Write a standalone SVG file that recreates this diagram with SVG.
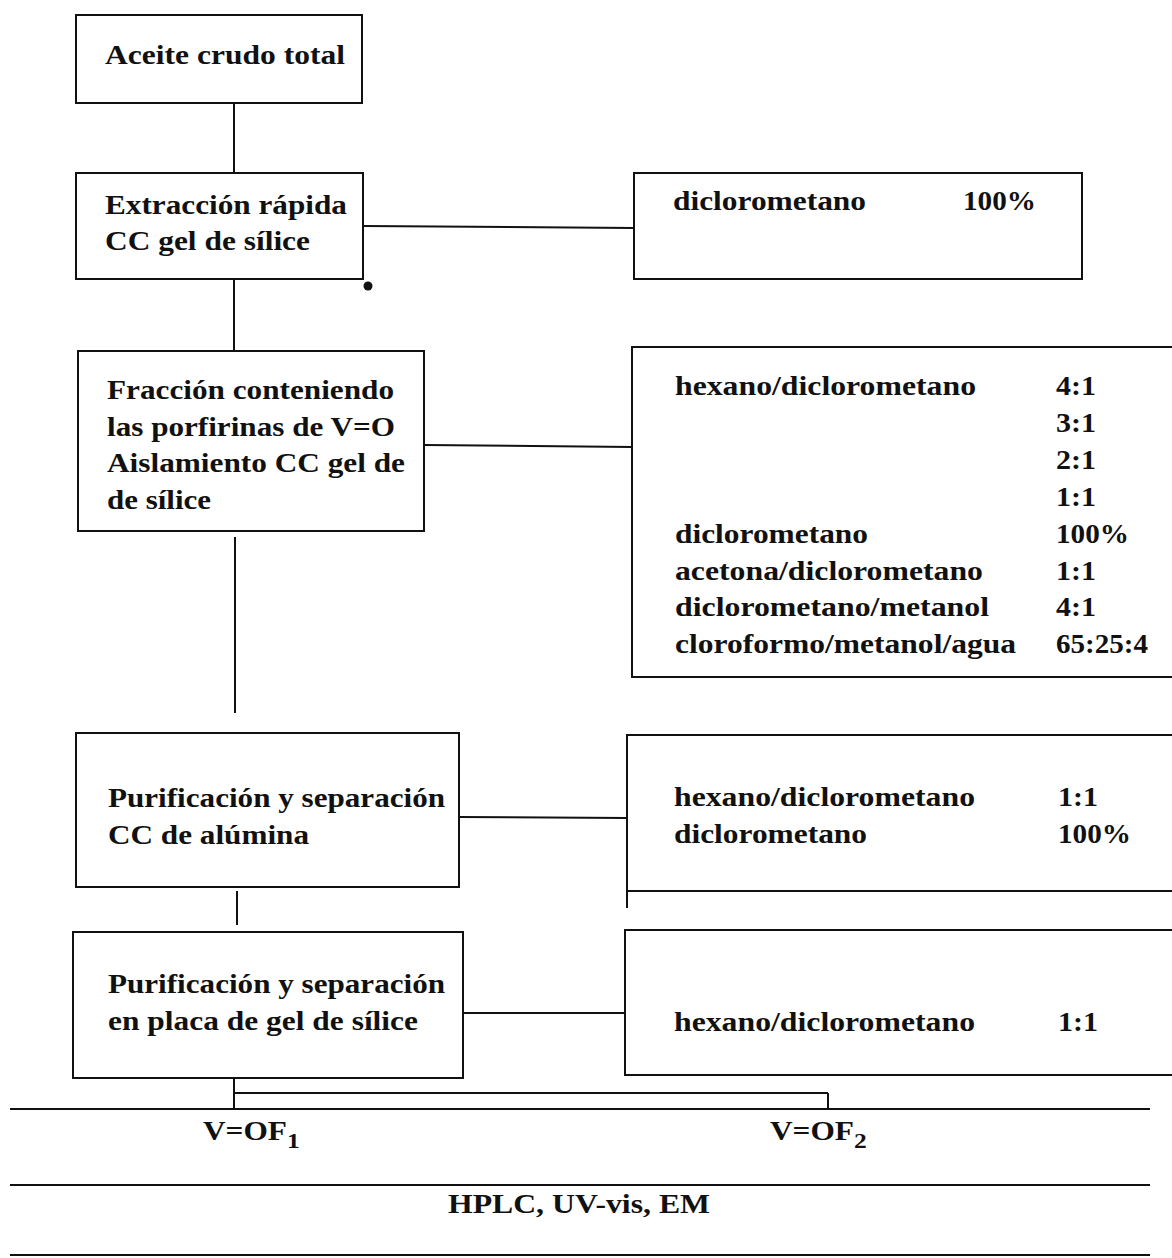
<svg xmlns="http://www.w3.org/2000/svg" width="1172" height="1258" viewBox="0 0 1172 1258">
<style>
.box{fill:none;stroke:#111;stroke-width:2}
.ln{stroke:#111;stroke-width:2;fill:none}
text{font-family:'Liberation Serif',Tinos,'Times New Roman',Times,serif;font-weight:700;font-size:27px;fill:#111}
</style>
<rect width="1172" height="1258" fill="#fff"/>
<g id="connectors">
<line class="ln" x1="234" y1="103" x2="234" y2="173"/>
<line class="ln" x1="234" y1="279" x2="234" y2="351"/>
<line class="ln" x1="363" y1="226" x2="634" y2="228"/>
<line class="ln" x1="424" y1="445" x2="632" y2="447"/>
<line class="ln" x1="235" y1="537" x2="235" y2="713"/>
<line class="ln" x1="459" y1="817" x2="627" y2="818"/>
<line class="ln" x1="237" y1="891" x2="237" y2="925"/>
<line class="ln" x1="463" y1="1013" x2="625" y2="1013"/>
<line class="ln" x1="627" y1="891" x2="627" y2="908"/>
<line class="ln" x1="234" y1="1078" x2="234" y2="1109"/>
<line class="ln" x1="234" y1="1093" x2="828" y2="1093" stroke-width="3"/>
<line class="ln" x1="828" y1="1093" x2="828" y2="1109"/>
<circle cx="368" cy="286" r="4.5" fill="#111"/>
</g>
<g id="rules">
<line class="ln" x1="10" y1="1109" x2="1150" y2="1109"/>
<line class="ln" x1="10" y1="1185" x2="1150" y2="1185"/>
<line class="ln" x1="10" y1="1255" x2="1150" y2="1255"/>
</g>
<g id="n1">
<rect class="box" x="76" y="15" width="286" height="88"/>
<text x="105" y="64" textLength="240" lengthAdjust="spacingAndGlyphs">Aceite crudo total</text>
</g>
<g id="n2">
<rect class="box" x="76" y="173" width="287" height="106"/>
<text x="105" y="214" textLength="242" lengthAdjust="spacingAndGlyphs">Extracción rápida</text>
<text x="105" y="250" textLength="205" lengthAdjust="spacingAndGlyphs">CC gel de sílice</text>
</g>
<g id="n3">
<rect class="box" x="78" y="351" width="346" height="180"/>
<text x="107" y="399" textLength="287" lengthAdjust="spacingAndGlyphs">Fracción conteniendo</text>
<text x="107" y="436" textLength="288" lengthAdjust="spacingAndGlyphs">las porfirinas de V=O</text>
<text x="107" y="472" textLength="298" lengthAdjust="spacingAndGlyphs">Aislamiento CC gel de</text>
<text x="107" y="509" textLength="104" lengthAdjust="spacingAndGlyphs">de sílice</text>
</g>
<g id="n4">
<rect class="box" x="76" y="733" width="383" height="154"/>
<text x="108" y="807" textLength="337" lengthAdjust="spacingAndGlyphs">Purificación y separación</text>
<text x="108" y="844" textLength="201" lengthAdjust="spacingAndGlyphs">CC de alúmina</text>
</g>
<g id="n5">
<rect class="box" x="73" y="932" width="390" height="146"/>
<text x="108" y="993" textLength="337" lengthAdjust="spacingAndGlyphs">Purificación y separación</text>
<text x="108" y="1030" textLength="310" lengthAdjust="spacingAndGlyphs">en placa de gel de sílice</text>
</g>
<g id="r1">
<rect class="box" x="634" y="173" width="448" height="106"/>
<text x="673" y="210" textLength="193" lengthAdjust="spacingAndGlyphs">diclorometano</text>
<text x="963" y="210" textLength="73" lengthAdjust="spacingAndGlyphs">100%</text>
</g>
<g id="r2">
<rect class="box" x="632" y="347" width="560" height="330"/>
<line class="ln" x1="632" y1="347" x2="1172" y2="347" stroke-width="3"/>
<text x="675" y="395" textLength="301" lengthAdjust="spacingAndGlyphs">hexano/diclorometano</text>
<text x="1056" y="395" textLength="40" lengthAdjust="spacingAndGlyphs">4:1</text>
<text x="1056" y="432" textLength="40" lengthAdjust="spacingAndGlyphs">3:1</text>
<text x="1056" y="469" textLength="40" lengthAdjust="spacingAndGlyphs">2:1</text>
<text x="1056" y="506" textLength="40" lengthAdjust="spacingAndGlyphs">1:1</text>
<text x="675" y="543" textLength="193" lengthAdjust="spacingAndGlyphs">diclorometano</text>
<text x="1056" y="543" textLength="73" lengthAdjust="spacingAndGlyphs">100%</text>
<text x="675" y="580" textLength="308" lengthAdjust="spacingAndGlyphs">acetona/diclorometano</text>
<text x="1056" y="580" textLength="40" lengthAdjust="spacingAndGlyphs">1:1</text>
<text x="675" y="616" textLength="314" lengthAdjust="spacingAndGlyphs">diclorometano/metanol</text>
<text x="1056" y="616" textLength="40" lengthAdjust="spacingAndGlyphs">4:1</text>
<text x="675" y="653" textLength="341" lengthAdjust="spacingAndGlyphs">cloroformo/metanol/agua</text>
<text x="1056" y="653" textLength="92" lengthAdjust="spacingAndGlyphs">65:25:4</text>
</g>
<g id="r3">
<rect class="box" x="627" y="735" width="560" height="156"/>
<text x="674" y="806" textLength="301" lengthAdjust="spacingAndGlyphs">hexano/diclorometano</text>
<text x="1058" y="806" textLength="40" lengthAdjust="spacingAndGlyphs">1:1</text>
<text x="674" y="843" textLength="193" lengthAdjust="spacingAndGlyphs">diclorometano</text>
<text x="1058" y="843" textLength="73" lengthAdjust="spacingAndGlyphs">100%</text>
</g>
<g id="r4">
<rect class="box" x="625" y="930" width="560" height="145"/>
<text x="674" y="1031" textLength="301" lengthAdjust="spacingAndGlyphs">hexano/diclorometano</text>
<text x="1058" y="1031" textLength="40" lengthAdjust="spacingAndGlyphs">1:1</text>
</g>
<g id="f1">
<text transform="translate(203 1140) scale(1.16 1)">V=OF<tspan font-size="22" dy="8">1</tspan></text>
</g>
<g id="f2">
<text transform="translate(770 1140) scale(1.16 1)">V=OF<tspan font-size="22" dy="8">2</tspan></text>
</g>
<g id="analysis">
<text x="448" y="1213" textLength="262" lengthAdjust="spacingAndGlyphs">HPLC, UV-vis, EM</text>
</g>
</svg>
